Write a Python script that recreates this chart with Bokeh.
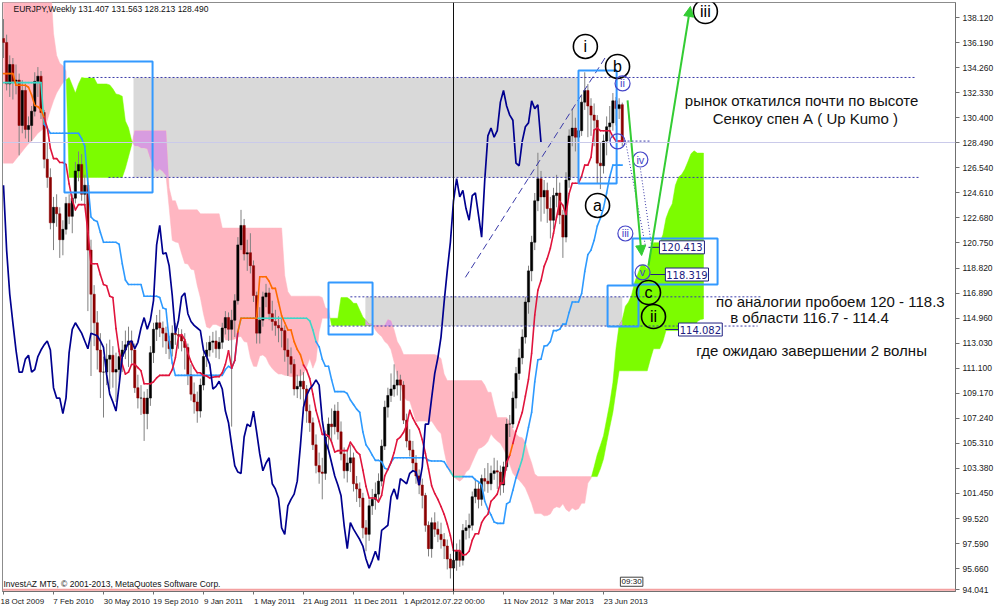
import numpy as np
from bokeh.plotting import figure
from bokeh.models import (Range1d, FixedTicker, PrintfTickFormatter, Span,
                          ColumnDataSource, Arrow, NormalHead)
from bokeh.embed import file_html
from bokeh.resources import INLINE
from bokeh.core.properties import value

# ---------------- data (weekly EURJPY, bar index 0 = 18 Oct 2009) ----------------
opens = [136.5, 136.2, 133.0, 134.5, 133.2, 133.3, 129.8, 132.5, 129.5, 129.8,
         130.9, 133.2, 133.6, 130.8, 127.2, 125.8, 122.3, 123.5, 123.0, 121.0,
         121.8, 123.8, 122.8, 124.2, 126.3, 126.8, 124.5, 125.2, 120.2, 116.8,
         114.6, 112.5, 110.8, 110.8, 111.8, 112.1, 110.8, 111.0, 112.0, 112.5,
         112.9, 113.2, 112.5, 109.6, 108.8, 108.8, 107.6, 108.8, 112.3, 114.1,
         114.6, 114.2, 113.8, 113.2, 112.6, 113.8, 113.7, 113.6, 113.2, 112.7,
         110.6, 109.1, 108.5, 107.8, 109.8, 112.0, 112.5, 113.1, 113.2, 112.6,
         113.1, 114.2, 115.0, 114.1, 114.8, 116.3, 120.6, 122.1, 119.9, 120.0,
         119.0, 116.7, 113.8, 114.8, 116.6, 116.9, 115.3, 114.7, 114.4, 114.2,
         114.0, 112.5, 112.0, 111.4, 109.5, 109.7, 110.1, 109.5, 107.8, 106.9,
         105.2, 103.6, 103.1, 103.0, 105.8, 106.8, 106.6, 107.8, 106.2, 104.5,
         103.2, 103.8, 104.2, 102.2, 101.8, 101.1, 98.8, 98.3, 100.5, 101.0,
         101.4, 102.4, 105.1, 108.1, 109.0, 109.5, 109.8, 110.2, 109.8, 107.1,
         105.5, 104.8, 103.8, 102.8, 102.1, 101.3, 99.0, 97.2, 99.2, 98.7,
         98.3, 97.9, 97.4, 96.4, 95.7, 96.3, 97.0, 96.3, 98.6, 98.8,
         99.0, 101.2, 101.8, 101.0, 102.6, 102.4, 102.2, 103.0, 103.2, 103.1,
         102.1, 103.5, 106.8, 106.8, 108.8, 110.7, 111.9, 113.5, 116.2, 118.6,
         120.8, 124.0, 125.7, 124.3, 124.8, 123.4, 122.5, 124.4, 124.6, 122.9,
         121.2, 125.6, 129.0, 129.6, 128.9, 129.4, 131.6, 132.5, 131.3, 130.6,
         130.2, 126.9, 126.7, 128.6, 129.7, 130.0, 131.7, 131.1, 131.407]
highs = [138.0, 136.8, 135.2, 135.0, 134.5, 133.8, 133.3, 133.0, 130.5, 131.3,
         133.9, 134.3, 134.0, 131.0, 128.5, 126.5, 124.3, 124.5, 123.5, 122.5,
         124.3, 124.5, 124.5, 127.0, 127.8, 127.6, 126.0, 125.8, 121.0, 117.5,
         115.5, 113.8, 112.0, 113.0, 113.3, 112.8, 112.3, 112.6, 113.2, 114.0,
         114.3, 114.0, 113.0, 110.6, 109.8, 109.3, 109.5, 112.8, 114.6, 115.2,
         115.6, 114.7, 114.3, 113.6, 114.4, 114.6, 114.2, 114.1, 113.8, 113.0,
         111.4, 110.0, 109.3, 110.3, 112.4, 113.1, 113.6, 113.9, 114.0, 113.5,
         114.6, 115.5, 115.4, 115.6, 116.8, 121.2, 123.3, 122.6, 121.0, 121.5,
         119.4, 117.0, 115.8, 117.0, 117.6, 117.3, 116.3, 115.6, 115.1, 115.0,
         114.4, 113.4, 112.7, 111.8, 110.6, 111.0, 110.8, 109.8, 108.3, 107.3,
         106.0, 104.6, 104.2, 106.3, 107.3, 108.0, 108.3, 108.5, 107.0, 105.0,
         104.8, 105.2, 104.6, 102.8, 102.3, 101.5, 99.4, 101.0, 101.8, 102.3,
         103.0, 105.6, 108.6, 109.6, 110.7, 111.4, 110.9, 110.6, 110.1, 107.6,
         106.4, 105.5, 104.4, 103.3, 102.6, 101.5, 99.3, 99.6, 100.0, 99.3,
         99.2, 98.4, 97.9, 96.8, 96.7, 97.6, 97.9, 99.1, 99.4, 99.9,
         101.6, 102.6, 102.3, 102.9, 103.4, 103.8, 103.6, 104.2, 104.0, 103.6,
         103.9, 107.2, 107.5, 109.3, 111.2, 112.6, 114.1, 116.6, 119.0, 121.3,
         124.6, 127.7, 126.3, 125.6, 125.4, 124.3, 125.0, 126.0, 125.4, 123.3,
         126.2, 129.5, 131.1, 130.4, 130.2, 132.2, 133.9, 133.0, 131.9, 131.5,
         130.6, 128.5, 129.1, 130.5, 131.3, 132.3, 132.0, 131.9, 131.563]
lows = [135.0, 132.5, 132.0, 131.8, 132.2, 127.5, 129.2, 128.8, 128.5, 128.6,
        130.5, 132.0, 130.3, 126.5, 125.0, 121.8, 120.2, 122.0, 119.6, 119.8,
        121.4, 122.2, 121.5, 123.8, 125.5, 124.0, 123.6, 115.5, 110.5, 112.8,
        111.0, 108.8, 107.3, 109.8, 109.5, 109.6, 108.5, 110.2, 110.8, 111.8,
        111.2, 111.5, 109.2, 108.0, 107.5, 105.5, 106.4, 108.2, 111.5, 113.2,
        113.5, 112.7, 112.2, 111.8, 112.0, 112.9, 112.6, 112.4, 111.0, 109.8,
        108.6, 107.6, 106.9, 107.3, 109.4, 111.2, 112.0, 112.3, 111.9, 111.8,
        112.6, 113.7, 113.2, 106.6, 113.5, 116.0, 120.2, 119.4, 118.6, 118.4,
        116.2, 113.0, 113.0, 114.3, 115.8, 114.8, 114.0, 113.6, 113.1, 112.7,
        111.6, 110.5, 110.7, 109.0, 108.8, 108.7, 107.6, 106.9, 106.2, 104.8,
        103.0, 102.2, 101.0, 102.5, 104.8, 105.5, 106.0, 105.6, 104.0, 102.6,
        102.3, 103.1, 101.6, 100.8, 100.4, 98.0, 97.0, 97.8, 99.8, 100.2,
        100.9, 102.0, 104.8, 107.3, 108.5, 108.9, 109.0, 108.6, 106.8, 105.0,
        104.3, 103.1, 102.2, 101.4, 100.3, 98.5, 96.6, 96.5, 98.1, 97.7,
        97.2, 96.4, 95.6, 94.9, 94.1, 95.5, 95.8, 95.9, 97.9, 98.0,
        98.6, 100.7, 100.3, 100.5, 101.6, 101.5, 101.7, 102.5, 101.8, 101.3,
        101.5, 103.2, 105.8, 106.5, 108.0, 110.2, 111.4, 113.0, 115.3, 117.8,
        120.2, 123.2, 122.4, 123.0, 122.3, 121.1, 121.8, 123.5, 122.2, 119.6,
        120.8, 125.0, 128.2, 127.8, 127.6, 129.0, 131.0, 128.9, 129.0, 128.2,
        125.3, 124.9, 126.1, 127.5, 128.6, 129.4, 129.8, 130.3, 128.213]
closes = [136.2, 133.0, 134.5, 133.2, 133.3, 129.8, 132.5, 129.5, 129.8, 130.9,
          133.2, 133.6, 130.8, 127.2, 125.8, 122.3, 123.5, 123.0, 121.0, 121.8,
          123.8, 122.8, 124.2, 126.3, 126.8, 124.5, 125.2, 120.2, 116.8, 114.6,
          112.5, 110.8, 110.8, 111.8, 112.1, 110.8, 111.0, 112.0, 112.5, 112.9,
          113.2, 112.5, 109.6, 108.8, 108.8, 107.6, 108.8, 112.3, 114.1, 114.6,
          114.2, 113.8, 113.2, 112.6, 113.8, 113.7, 113.6, 113.2, 112.7, 110.6,
          109.1, 108.5, 107.8, 109.8, 112.0, 112.5, 113.1, 113.2, 112.6, 113.1,
          114.2, 115.0, 114.1, 114.8, 116.3, 120.6, 122.1, 119.9, 120.0, 119.0,
          116.7, 113.8, 114.8, 116.6, 116.9, 115.3, 114.7, 114.4, 114.2, 114.0,
          112.5, 112.0, 111.4, 109.5, 109.7, 110.1, 109.5, 107.8, 106.9, 105.2,
          103.6, 103.1, 103.0, 105.8, 106.8, 106.6, 107.8, 106.2, 104.5, 103.2,
          103.8, 104.2, 102.2, 101.8, 101.1, 98.8, 98.3, 100.5, 101.0, 101.4,
          102.4, 105.1, 108.1, 109.0, 109.5, 109.8, 110.2, 109.8, 107.1, 105.5,
          104.8, 103.8, 102.8, 102.1, 101.3, 99.0, 97.2, 99.2, 98.7, 98.3,
          97.9, 97.4, 96.4, 95.7, 96.3, 97.0, 96.3, 98.6, 98.8, 99.0,
          101.2, 101.8, 101.0, 102.6, 102.4, 102.2, 103.0, 103.2, 103.1, 102.1,
          103.5, 106.8, 106.8, 108.8, 110.7, 111.9, 113.5, 116.2, 118.6, 120.8,
          124.0, 125.7, 124.3, 124.8, 123.4, 122.5, 124.4, 124.6, 122.9, 121.2,
          125.6, 129.0, 129.6, 128.9, 129.4, 131.6, 132.5, 131.3, 130.6, 130.2,
          126.9, 126.7, 128.6, 129.7, 130.0, 131.7, 131.1, 131.4, 128.49]

# Ichimoku values visible before enough history exists in the window
tenkan_head = [133.8, 133.8, 133.8, 133.8, 132.9, 132.9, 132.9, 132.9]
kijun_head = [133.1, 133.1, 133.1, 133.1, 133.1, 133.1, 133.1, 133.1, 133.1, 133.1,
              133.1, 133.1, 133.1, 129.9, 129.6, 129.2, 129.2, 129.2, 129.2, 129.2,
              129.2, 129.2, 129.2, 129.2, 129.2]
span_a_head = [126.9, 126.9, 126.9, 126.9, 127.2, 127.5, 127.8, 128.1, 128.4, 128.6,
               128.9, 129.2, 129.4, 129.6, 130.2, 131.0, 131.7, 132.3, 132.7, 133.1,
               133.3, 133.5, 132.9, 132.3, 133.0, 133.5]
span_b_head = [141.0, 141.0, 141.0, 141.0, 141.0, 141.0, 141.0, 141.0, 141.0, 141.0,
               141.0, 141.0, 141.0, 141.0, 141.0, 141.0, 136.9, 135.2, 134.6, 134.4,
               134.0, 125.8, 125.8, 125.8, 125.8, 125.8, 125.8, 125.8, 125.8, 125.8,
               125.8, 125.8, 125.8, 125.8, 125.8, 125.8, 125.8, 125.8, 125.8, 126.5,
               127.4, 128.3, 129.4, 129.4, 129.4, 129.4, 129.4, 129.4, 129.4, 129.4,
               129.4, 129.4, 129.4, 125.0, 124.0, 124.0, 123.3, 123.3, 123.3, 123.3,
               123.3, 123.3, 123.3, 123.0, 123.0, 123.0, 123.0, 123.0, 123.0, 123.0,
               121.9, 121.9, 121.9, 121.9, 121.9, 121.9, 121.9, 121.9, 121.9, 121.9,
               121.9, 121.9, 121.9, 121.9, 121.9, 121.9, 121.9, 121.9, 121.9, 121.9]

tick_weeks = [0, 16, 32, 48, 64, 80, 96, 112, 128, 144, 160, 176, 192]
tick_dates = ["18 Oct 2009", "7 Feb 2010", "30 May 2010", "19 Sep 2010", "9 Jan 2011",
              "1 May 2011", "21 Aug 2011", "11 Dec 2011", "1 Apr", "2012.07.22 00:00",
              "11 Nov 2012", "3 Mar 2013", "23 Jun 2013"]
price_ticks = [94.041, 95.660, 97.590, 99.520, 101.450, 103.380, 105.310, 107.240, 109.170,
               111.100, 113.030, 114.960, 116.890, 118.820, 120.750, 122.680, 124.610,
               126.540, 128.490, 130.400, 132.330, 134.260, 136.190, 138.120]

# annotation objects (bar index / price)
zone_left = [41.6, 115.8]
zone_right = [183.8, 198.0]
zone_low = [125.8, 114.35]
zone_high = [133.5, 116.6]

hl_price = [133.5, 125.8, 116.6, 114.35, 128.6]
hl_from = [27.2, 33.6, 111.0, 104.0, 198.4]
hl_to = [291.8, 292.8, 242.2, 241.3, 207.0]

box_left = [19.5, 104.0, 184.0, 193.3, 201.3]
box_right = [47.7, 118.1, 196.2, 203.2, 228.5]
box_low = [124.64, 113.7, 125.33, 114.31, 117.55]
box_high = [134.73, 117.7, 134.04, 117.47, 121.10]

wave_big_x = [186.2, 196.5, 190.1, 224.6, 206.4, 208.0]
wave_big_y = [135.89, 134.35, 123.64, 138.58, 116.93, 115.08]
wave_big_t = ["i", "b", "a", "iii", "c", "ii"]

wave_small_x = [198.1, 196.5, 203.8, 199.0, 204.5]
wave_small_y = [133.04, 128.57, 127.18, 121.48, 118.48]
wave_small_t = ["ii", "", "iv", "iii", "v"]

level_vals = ["120.413", "118.319", "114.082"]
level_price = [120.413, 118.319, 114.082]
level_box_l = [209.9, 211.8, 216.0]
level_box_r = [224.3, 225.6, 230.0]
level_from = [206.4, 207.0, 211.8]

notes = ["рынок откатился почти по высоте", "Сенкоу спен А ( Up Kumo )",
         "по аналогии пробоем 120 - 118.3", "в области 116.7 - 114.4",
         "где ожидаю завершении 2 волны"]
notes_x = [255.4, 256.6, 264.6, 257.9, 258.6]
notes_y = [131.73, 130.34, 116.24, 115.0, 112.47]

# ---------------- indicator computation ----------------
H = np.array(highs)
L = np.array(lows)
C = np.array(closes)
O = np.array(opens)
n = len(C)
tenkan = np.zeros(n)
kijun = np.zeros(n)
tenkan[:8] = tenkan_head
for i in range(8, n):
    tenkan[i] = (H[i - 8:i + 1].max() + L[i - 8:i + 1].min()) / 2
kijun[:25] = kijun_head
for i in range(25, n):
    kijun[i] = (H[i - 25:i + 1].max() + L[i - 25:i + 1].min()) / 2
m = n + 26
spanA = np.zeros(m)
spanB = np.zeros(m)
spanA[:26] = span_a_head
spanA[26:] = (tenkan + kijun) / 2
spanB[:90] = span_b_head
for d in range(90, m):
    i = d - 26
    spanB[d] = (H[i - 51:i + 1].max() + L[i - 51:i + 1].min()) / 2
dx = np.arange(m).astype(float)

# ---------------- figure ----------------
FONT = "Liberation Sans"
p = figure(width=1000, height=609, x_range=Range1d(-0.32, 304.64), y_range=Range1d(93.898, 139.276),
           output_backend="svg", toolbar_location=None, y_axis_location="right",
           min_border_left=2, min_border_top=2, min_border_right=45, min_border_bottom=18)
p.grid.visible = False
p.outline_line_color = "#8c8c8c"
p.background_fill_color = "white"
p.border_fill_color = "white"

ya = p.yaxis[0]
ya.ticker = FixedTicker(ticks=price_ticks)
ya.formatter = PrintfTickFormatter(format="%.3f")
ya.major_label_text_font = FONT
ya.major_label_text_font_size = "8.5px"
ya.major_label_text_color = "#202020"
ya.major_tick_out = 4
ya.major_tick_in = 0
ya.minor_tick_line_color = None
ya.major_label_standoff = 3
ya.axis_line_color = "#707070"
ya.major_tick_line_color = "#707070"

# left-anchored date labels (MetaTrader style): prefix no-break spaces so the
# centred label's visible text begins at its tick
CW = {ch: 0.556 for ch in "0123456789"}
CW.update({" ": 0.278, "O": 0.778, "F": 0.611, "M": 0.833, "S": 0.667, "J": 0.5, "A": 0.667,
           "D": 0.722, "N": 0.722, "c": 0.5, "t": 0.278, "e": 0.556, "b": 0.556, "a": 0.556,
           "y": 0.5, "p": 0.556, "r": 0.333, "u": 0.556, "g": 0.556, "o": 0.556, "v": 0.5,
           "n": 0.556, "l": 0.222, ".": 0.278, ":": 0.278})

def left_anchor(s):
    k = int(round(sum(CW.get(ch, 0.556) for ch in s) / 0.278))
    return "\u00a0" * k + s

overrides = {}
for w, t in zip(tick_weeks, tick_dates):
    overrides[w] = t if w in (0, 144) else left_anchor(t)

xa = p.xaxis[0]
xa.ticker = FixedTicker(ticks=tick_weeks)
xa.major_label_overrides = overrides
xa.major_label_text_font = FONT
xa.major_label_text_font_size = "8px"
xa.major_label_text_color = "#202020"
xa.major_tick_out = 3
xa.major_tick_in = 0
xa.minor_tick_line_color = None
xa.major_label_standoff = 2
xa.axis_line_color = "#707070"
xa.major_tick_line_color = "#707070"

# gray zones
p.quad(left=zone_left, right=zone_right, bottom=zone_low, top=zone_high,
       fill_color="#D9D9D9", line_color=None)

# cloud
pieces = []
for k in range(m - 1):
    x0, x1 = dx[k], dx[k + 1]
    a0, a1, b0, b1 = spanA[k], spanA[k + 1], spanB[k], spanB[k + 1]
    d0, d1 = a0 - b0, a1 - b1
    if d0 * d1 < 0:
        t = d0 / (d0 - d1)
        xc = x0 + t * (x1 - x0)
        yc = a0 + t * (a1 - a0)
        segs = [(np.sign(d0), [(x0, a0, b0), (xc, yc, yc)]),
                (np.sign(d1), [(xc, yc, yc), (x1, a1, b1)])]
    else:
        s = np.sign(d0) if d0 != 0 else np.sign(d1)
        segs = [(s, [(x0, a0, b0), (x1, a1, b1)])]
    for s, pts in segs:
        if pieces and pieces[-1][0] == s:
            pieces[-1][1].append(pts[1])
        else:
            pieces.append((s, list(pts)))
pk_x, pk_y, gr_x, gr_y = [], [], [], []
for s, pts in pieces:
    xs_ = [q[0] for q in pts] + [q[0] for q in pts[::-1]]
    ys_ = [q[1] for q in pts] + [q[2] for q in pts[::-1]]
    if s > 0:
        gr_x.append(xs_); gr_y.append(ys_)
    else:
        pk_x.append(xs_); pk_y.append(ys_)
p.patches(pk_x, pk_y, fill_color="#FFB6C1", line_color="#FFB6C1", line_width=0.5)
p.patches(gr_x, gr_y, fill_color="#7CFC00", line_color="#7CFC00", line_width=0.5)

# cloud inside gray zones shows violet
vx, vy = [], []
for x0r, x1r, lo, hi in zip(zone_left, zone_right, zone_low, zone_high):
    xf = np.linspace(x0r, x1r, int((x1r - x0r) / 0.05) + 1)
    af = np.interp(xf, dx, spanA)
    bf = np.interp(xf, dx, spanB)
    low = np.maximum(np.minimum(af, bf), lo)
    up = np.minimum(np.maximum(af, bf), hi)
    msk = up > low
    k = 0
    while k < len(xf):
        if msk[k]:
            j = k
            while j < len(xf) and msk[j]:
                j += 1
            vx.append(list(xf[k:j]) + list(xf[k:j][::-1]))
            vy.append(list(up[k:j]) + list(low[k:j][::-1]))
            k = j
        else:
            k += 1
if vx:
    p.patches(vx, vy, fill_color="#D89CE0", line_color=None)

# candles
idx = np.arange(n)
cols = ["#000000" if c >= o else "#8B0000" for o, c in zip(O, C)]
src = ColumnDataSource(dict(x=idx, h=H, l=L, top=np.maximum(O, C), bottom=np.minimum(O, C), color=cols))
p.segment(x0="x", y0="h", x1="x", y1="l", line_color="#808080", line_width=1, source=src)
p.vbar(x="x", width=0.72, top="top", bottom="bottom", fill_color="color", line_color="color",
       line_width=0.5, source=src)

# tenkan / kijun (tinted where inside the bearish cloud)
def inside_pink(d, v):
    return spanB[d] > spanA[d] and spanA[d] <= v <= spanB[d]

def seg_source(vals, base, alt):
    x0, y0, x1, y1, cc = [], [], [], [], []
    for k in range(len(vals) - 1):
        x0.append(k); y0.append(vals[k]); x1.append(k + 1); y1.append(vals[k + 1])
        cc.append(alt if (inside_pink(k, vals[k]) and inside_pink(k + 1, vals[k + 1])) else base)
    return ColumnDataSource(dict(x0=x0, y0=y0, x1=x1, y1=y1, c=cc))

p.segment(x0="x0", y0="y0", x1="x1", y1="y1", line_color="c", line_width=1.6, line_cap="round",
          source=seg_source(kijun, "#2E9AFE", "#3CD6C8"))
p.segment(x0="x0", y0="y0", x1="x1", y1="y1", line_color="c", line_width=1.6, line_cap="round",
          source=seg_source(tenkan, "#E0143C", "#FF6A00"))
# chikou span
p.line(x=list(range(n - 26)), y=list(C[26:]), line_color="#00008F", line_width=1.7)

# dashed horizontal levels
p.segment(x0=hl_from, y0=hl_price, x1=hl_to, y1=hl_price, line_color="#3A3AA8",
          line_width=1, line_dash="2 2")
# trend line
p.segment(x0=[147.8], y0=[118.1], x1=[193.0], y1=[135.2], line_color="#3A3AA8",
          line_width=1, line_dash="7 4")
# wave path dotted lines
p.segment(x0=[199.0, 203.8], y0=[128.64, 126.49], x1=[205.4, 207.4], y1=[120.55, 120.48],
          line_color="#3A3AA8", line_width=1, line_dash="1 2")

# blue boxes
p.quad(left=box_left, right=box_right, bottom=box_low, top=box_high,
       fill_color=None, line_color="#3399FF", line_width=2)

# green arrows
G = "#33CC33"
p.add_layout(Arrow(end=NormalHead(size=10, fill_color=G, line_color=G), x_start=199.7, y_start=131.73,
                   x_end=204.2, y_end=119.78, line_color=G, line_width=2))
p.add_layout(Arrow(end=NormalHead(size=10, fill_color=G, line_color=G), x_start=206.4, y_start=119.01,
                   x_end=219.8, y_end=138.97, line_color=G, line_width=2))

# wave circles
p.scatter(wave_big_x, wave_big_y, size=24, marker="circle", fill_color=None,
          line_color="black", line_width=1.6)
p.text(wave_big_x, wave_big_y, text=wave_big_t, text_align="center", text_baseline="middle",
       text_font=value(FONT), text_font_size="16px", text_color="black")
p.scatter(wave_small_x, wave_small_y, size=15, marker="circle", fill_color=None,
          line_color="#4646C8", line_width=1.2)
p.text(wave_small_x, wave_small_y, text=wave_small_t, text_align="center", text_baseline="middle",
       text_font=value(FONT), text_font_size="11px", text_color="#4646C8")

# level price tags
p.segment(x0=level_from, y0=level_price, x1=level_box_l, y1=level_price, line_color="#202080", line_width=1)
p.quad(left=level_box_l, right=level_box_r, bottom=[v - 0.5 for v in level_price],
       top=[v + 0.5 for v in level_price], fill_color="white", line_color="#202080", line_width=1)
p.text([(a + b) / 2 for a, b in zip(level_box_l, level_box_r)], level_price, text=level_vals,
       text_align="center", text_baseline="middle", text_font=value("DejaVu Sans"),
       text_font_size="10px", text_color="#202080")

# notes
p.text(notes_x, notes_y, text=notes, text_align="center", text_baseline="middle",
       text_font=value(FONT), text_font_size="15px", text_color="#111111")

# header and footer texts
p.text([3.2], [138.81], text=["EURJPY,Weekly  131.407 131.563 128.213 128.490"], text_align="left",
       text_baseline="middle", text_font=value(FONT), text_font_size="8.5px", text_color="#111111")
p.text([0.0], [94.44], text=["InvestAZ MT5, © 2001-2013, MetaQuotes Software Corp."], text_align="left",
       text_baseline="middle", text_font=value(FONT), text_font_size="8.5px", text_color="#111111")
p.quad(left=[197.4], right=[204.6], bottom=[94.3], top=[95.0], fill_color="white",
       line_color="#404040", line_width=1)
p.text([201.0], [94.65], text=["09:30"], text_align="center", text_baseline="middle",
       text_font=value(FONT), text_font_size="8px", text_color="#111111")

# lines
p.add_layout(Span(location=128.49, dimension="width", line_color="#CACAEA", line_width=1))
p.add_layout(Span(location=94.041, dimension="width", line_color="#F4A0A0", line_width=2))
p.add_layout(Span(location=144, dimension="height", line_color="#101010", line_width=1))

open("out.html", "w").write(file_html(p, INLINE))
